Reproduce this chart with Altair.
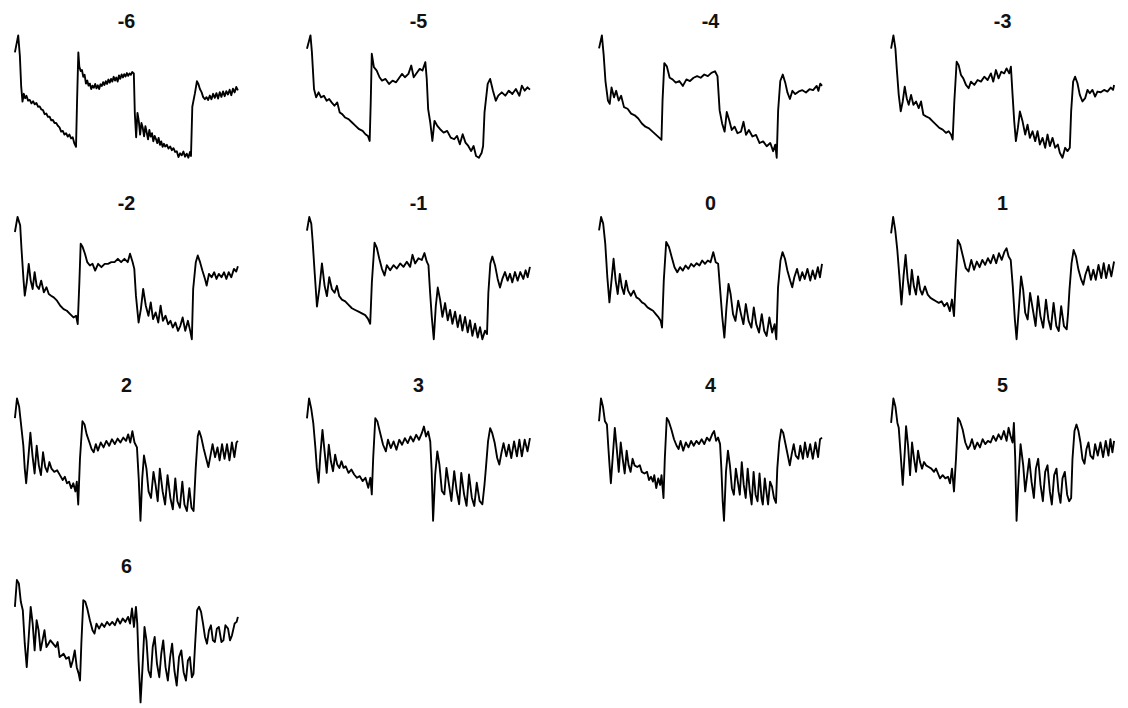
import altair as alt
import pandas as pd

# Panel labels (facet order)
panels = ["-6", "-5", "-4", "-3", "-2", "-1", "0", "1", "2", "3", "4", "5", "6"]

# Waveform readings per panel: time (t) and signal (s, read downward: larger = lower)
t_m6 = [45,55,60,64,68,72,76,80,85,90,95,100,105,110,115,120,125,130,135,140,145,150,155,160,165,170,175,180,185,190,195,200,205,210,215,220,225,230,233,237,240,244,248,252,256,260,264,268,272,276,280,284,288,292,296,300,304,308,312,316,320,324,328,332,336,340,344,348,352,356,360,364,368,372,376,380,384,388,392,396,400,405,408,412,416,420,424,428,432,436,440,444,448,452,456,460,464,468,472,476,480,484,488,492,496,500,505,510,515,520,525,530,535,540,545,550,555,560,565,570,575,578,582,590,596,600,605,610,615,620,625,630,635,640,645,650,655,660,665,670,675,680,685,690,695,700,705,710,715,720]
s_m6 = [150,100,160,250,295,272,285,278,292,290,300,294,303,299,310,309,318,320,332,330,340,339,350,349,358,358,366,371,383,381,392,388,398,392,403,400,418,428,300,150,192,205,202,222,216,242,233,248,242,258,248,254,243,256,247,258,244,249,238,246,235,243,230,239,228,236,222,233,224,236,218,228,215,224,214,221,211,219,212,216,208,212,330,400,328,352,392,358,372,397,367,386,406,378,398,388,412,396,405,417,402,422,412,428,419,427,422,433,427,438,432,443,441,458,447,453,442,457,448,460,443,455,310,270,235,242,258,267,282,288,282,290,277,288,272,284,270,286,267,281,265,279,264,274,260,276,257,268,252,262]

t_m5 = [52,62,66,72,78,85,92,100,108,115,122,130,138,145,152,160,170,180,190,200,210,218,225,230,233,236,242,250,258,265,275,285,295,305,315,322,330,340,348,355,365,372,380,388,392,396,402,408,414,422,430,440,450,460,470,478,486,494,502,510,518,525,532,540,548,552,556,565,572,580,588,595,605,615,625,635,645,655,662,670,678,685]
s_m5 = [140,100,150,260,285,270,285,280,295,290,300,310,300,330,335,345,350,360,370,380,385,395,400,415,300,155,195,205,225,235,230,245,235,240,225,215,225,215,190,225,210,200,205,180,230,320,360,415,355,370,380,390,385,405,410,400,425,395,420,430,445,430,460,465,450,430,330,245,230,265,295,280,270,280,265,275,260,280,250,265,255,262]

t_m4 = [880,888,893,898,905,910,915,922,928,935,942,950,960,970,980,990,1000,1010,1020,1030,1040,1050,1055,1058,1063,1070,1078,1086,1095,1105,1115,1125,1135,1145,1155,1165,1175,1185,1195,1205,1212,1218,1225,1232,1238,1245,1252,1260,1268,1278,1285,1292,1300,1310,1320,1330,1340,1350,1360,1368,1374,1378,1382,1388,1395,1402,1408,1415,1422,1430,1440,1450,1460,1470,1480,1490,1495,1500,1505]
s_m4 = [140,100,160,240,300,310,260,290,270,300,285,320,325,340,345,355,370,380,385,395,405,415,420,300,185,195,230,235,245,240,255,235,240,230,225,230,220,225,215,210,225,330,370,395,335,360,390,380,400,395,365,405,390,410,405,430,425,440,430,455,435,475,330,240,220,245,275,295,270,280,272,268,275,265,268,255,270,248,255]

t_m3 = [55,62,68,72,78,84,90,96,102,108,115,122,130,138,145,152,160,170,180,190,200,210,220,228,235,240,245,252,258,265,272,280,288,295,305,315,325,335,345,355,362,370,378,386,395,402,410,415,420,425,430,436,442,450,458,465,472,480,488,495,502,510,518,525,532,540,548,556,562,570,578,585,592,596,602,608,615,622,630,638,645,652,660,668,675,685,695,705,715,722,725]
s_m3 = [140,100,140,200,280,330,300,255,290,310,280,310,300,320,300,340,345,350,360,370,380,385,395,390,400,415,300,180,190,220,230,250,260,240,250,235,240,225,235,215,240,205,230,210,215,200,215,195,280,360,420,380,330,360,400,370,410,390,420,390,430,410,440,400,435,410,440,430,455,470,440,450,440,330,240,225,245,280,300,290,265,275,265,285,270,272,265,270,258,265,250]

t_m2 = [42,50,58,62,68,72,78,84,90,96,102,108,115,122,130,138,145,152,160,170,180,190,200,210,220,228,233,238,242,248,255,262,270,278,286,295,305,315,325,335,345,355,365,375,385,392,400,405,410,418,425,432,440,448,455,462,470,478,485,492,500,508,515,522,530,538,545,552,560,568,575,580,584,592,598,605,612,620,625,632,640,648,655,662,670,678,685,692,700,708,715,720]
s_m2 = [150,105,130,200,290,340,300,245,295,320,270,310,320,295,330,315,335,340,345,355,370,380,385,395,405,400,425,300,185,195,215,240,250,245,265,245,255,245,245,240,240,230,240,230,240,215,240,260,340,420,380,320,370,400,360,410,390,420,370,415,400,425,415,435,420,445,430,405,445,415,445,470,320,240,220,240,265,290,310,275,285,270,290,275,285,270,290,270,285,260,268,252]

t_m1 = [55,62,68,72,78,85,92,100,108,115,122,130,138,145,152,160,170,180,190,200,210,220,230,238,245,250,258,265,272,280,288,295,305,315,325,335,345,355,365,372,380,390,400,408,415,420,425,430,436,442,448,455,462,470,478,485,492,500,508,515,522,530,538,545,552,560,568,575,582,590,596,600,606,612,620,628,635,642,650,658,665,672,680,688,696,705,712,718,725]
s_m1 = [150,110,130,180,270,370,320,245,310,340,285,320,330,310,340,350,355,365,375,380,385,390,395,405,420,300,185,200,230,260,280,250,265,250,260,245,255,240,255,220,245,230,235,215,240,250,330,400,465,370,315,350,400,360,410,380,420,385,430,395,440,400,445,410,455,420,460,430,465,440,450,330,245,225,250,290,315,290,270,295,275,300,270,295,270,290,265,285,255]

t_0 = [68,74,80,86,92,98,104,110,116,122,128,134,140,146,152,160,168,176,184,192,200,208,216,224,232,240,246,250,255,262,270,278,286,294,302,310,318,326,334,342,350,358,366,374,382,390,398,405,412,418,424,430,436,442,448,455,462,470,478,485,492,500,508,515,522,530,538,545,552,560,568,575,580,585,592,598,605,612,620,626,632,640,648,655,662,670,678,685,692,700,706,712]
s_0 = [150,110,130,190,290,365,300,235,300,340,280,320,340,300,330,345,330,350,355,365,370,380,385,390,400,410,420,440,300,185,200,230,260,275,260,270,255,265,250,258,248,255,240,250,240,245,215,245,250,330,410,470,380,310,340,400,420,360,400,430,370,420,440,380,430,455,400,450,465,410,455,430,475,320,240,215,235,270,300,320,290,265,300,275,295,265,300,270,295,260,290,250]

t_1 = [910,916,922,928,934,940,946,952,958,964,970,976,982,988,994,1000,1008,1016,1024,1032,1040,1048,1056,1064,1072,1080,1086,1092,1097,1103,1110,1118,1126,1134,1142,1150,1158,1166,1174,1182,1190,1198,1206,1214,1222,1230,1238,1244,1250,1256,1262,1268,1273,1280,1286,1292,1298,1305,1312,1320,1328,1335,1342,1350,1358,1365,1372,1380,1388,1395,1402,1410,1418,1422,1426,1432,1438,1445,1452,1460,1466,1472,1480,1488,1495,1502,1510,1518,1525,1532,1540,1547,1555]
s_1 = [160,110,150,210,290,375,290,225,300,345,270,320,345,290,330,345,320,345,355,360,365,370,365,380,370,395,360,410,300,180,195,230,265,275,240,270,245,262,240,255,235,250,225,250,220,240,215,205,230,240,320,420,480,380,290,330,400,420,340,390,440,350,410,445,360,420,450,370,440,455,380,440,450,400,330,250,210,230,270,300,315,285,260,300,270,300,255,295,250,295,255,290,245]

t_2 = [38,44,50,56,62,66,70,76,82,88,94,100,106,112,118,124,130,136,142,150,158,166,174,180,186,192,198,204,210,214,218,223,230,236,242,250,256,262,268,274,282,290,298,306,314,322,330,338,346,354,360,366,372,378,385,390,395,400,405,412,418,425,432,438,444,450,458,465,472,480,487,494,500,507,514,520,527,534,540,546,552,558,562,568,575,582,588,594,600,607,614,620,627,634,641,648,655,662,668,672]
s_2 = [175,115,140,200,260,330,375,300,220,290,345,260,320,350,280,325,340,310,330,340,335,350,365,355,375,370,390,375,400,370,440,300,185,195,225,250,270,280,255,275,250,265,245,260,240,255,238,250,235,245,225,250,215,250,265,360,490,360,290,330,400,420,340,380,430,330,400,440,350,420,455,360,430,450,370,440,460,390,450,460,330,230,215,235,270,300,325,290,255,295,265,305,255,300,255,305,250,295,250,245]

t_3 = [862,868,874,880,886,890,895,900,906,912,918,924,930,936,942,948,954,960,966,972,980,988,996,1004,1012,1020,1028,1036,1042,1046,1050,1056,1062,1070,1078,1086,1092,1100,1108,1116,1124,1132,1140,1148,1156,1164,1172,1180,1188,1194,1200,1206,1212,1216,1220,1226,1232,1238,1245,1252,1258,1265,1272,1280,1287,1294,1300,1308,1315,1322,1330,1337,1344,1352,1360,1366,1370,1376,1382,1388,1395,1402,1408,1414,1420,1428,1435,1442,1450,1458,1465,1472,1480,1488,1495]
s_3 = [180,120,150,195,270,330,375,290,215,280,345,260,310,340,290,320,330,310,330,325,345,335,350,360,355,370,360,390,360,410,300,180,190,225,260,280,245,270,250,275,245,260,240,255,235,250,230,245,225,205,235,220,250,340,490,350,280,320,400,410,330,380,430,340,400,440,345,410,445,350,420,445,375,430,440,380,330,250,210,225,255,300,320,285,255,295,260,300,250,295,245,295,245,280,240]

t_4 = [70,76,82,88,94,98,102,106,112,118,124,130,136,142,148,154,160,166,172,178,186,194,200,208,216,222,228,234,238,244,250,256,260,266,270,276,282,290,298,306,312,318,326,334,342,350,358,366,374,382,390,398,406,414,420,426,432,438,442,446,450,456,462,468,474,480,486,492,498,504,510,516,522,528,534,540,546,552,558,564,568,574,580,584,590,596,602,608,612,618,624,630,636,644,650,656,662,668,676,682,690,696,704,712,720,728,736,742,748]
s_4 = [185,115,140,185,195,260,320,375,290,205,270,340,250,300,345,275,320,340,300,320,325,320,340,345,340,365,355,370,350,390,360,380,350,420,300,175,185,210,240,260,270,245,275,250,265,245,260,245,255,240,255,235,245,225,215,245,235,255,330,430,490,340,275,320,390,410,330,370,410,310,380,420,330,395,440,340,410,430,345,420,440,360,410,440,370,385,420,435,330,250,210,220,250,290,320,285,255,290,300,260,300,250,295,255,300,250,295,240,235]

t_5 = [55,62,68,74,78,84,90,96,100,106,112,118,124,130,136,142,148,154,160,168,176,184,190,196,202,210,218,226,232,238,244,250,256,262,270,278,286,292,298,306,314,322,330,338,346,354,362,370,378,386,394,402,408,414,420,424,428,432,438,444,452,458,464,470,477,484,490,497,504,511,518,525,532,538,545,552,558,564,570,577,584,590,596,600,606,612,618,624,630,636,642,648,654,662,668,676,684,692,700,708,714,720,725]
s_5 = [190,115,140,190,205,290,380,280,200,260,350,250,300,340,275,310,330,310,320,325,330,340,330,345,360,350,360,355,375,330,400,300,175,185,210,250,270,260,240,270,250,265,240,255,245,250,230,245,225,240,215,245,205,230,250,190,300,490,360,255,320,400,350,300,370,420,330,300,380,430,340,320,400,440,350,330,400,435,360,340,410,430,420,300,215,195,215,250,300,315,270,250,290,300,255,290,250,295,245,290,240,280,245]

t_6 = [42,48,54,60,66,72,78,84,90,96,102,108,114,120,126,132,138,144,150,158,166,172,178,184,190,198,206,212,218,224,230,236,240,244,250,256,262,270,278,284,290,298,306,314,322,330,338,346,354,362,370,378,386,392,398,404,410,414,418,424,430,436,442,448,455,461,467,474,481,487,493,500,507,514,520,527,534,541,548,555,562,568,574,580,585,590,596,602,608,614,620,626,632,638,644,650,656,662,670,676,682,690,696,702,710,716,720]
s_6 = [190,110,120,175,200,300,370,280,190,240,320,230,260,320,290,260,310,300,290,300,310,295,340,335,330,345,340,370,350,320,370,390,410,300,170,175,195,230,260,270,240,255,240,250,235,245,235,245,225,240,225,235,220,240,195,250,190,240,350,475,370,250,290,380,400,310,280,360,400,330,290,370,410,340,300,380,425,340,320,385,410,350,340,400,390,300,200,190,205,240,280,300,260,245,290,295,255,250,295,290,245,255,290,275,240,235,220]

series = {
    "-6": (t_m6, s_m6), "-5": (t_m5, s_m5), "-4": (t_m4, s_m4), "-3": (t_m3, s_m3),
    "-2": (t_m2, s_m2), "-1": (t_m1, s_m1), "0": (t_0, s_0), "1": (t_1, s_1),
    "2": (t_2, s_2), "3": (t_3, s_3), "4": (t_4, s_4), "5": (t_5, s_5), "6": (t_6, s_6),
}

rows = []
for p in panels:
    ts, ss = series[p]
    for i, (t, s) in enumerate(zip(ts, ss)):
        rows.append({"panel": p, "i": i, "t": t, "s": s})
df = pd.DataFrame(rows)

base = alt.Chart(df).mark_line(color="black", strokeWidth=1.9, strokeJoin="round").encode(
    x=alt.X("t:Q", axis=None, scale=alt.Scale(zero=False, nice=False)),
    y=alt.Y("s:Q", axis=None, scale=alt.Scale(zero=False, nice=False, reverse=True)),
    order="i:Q",
).properties(width=226, height=124)

hdr = dict(labelFontSize=20, labelFontWeight="bold", labelFont="Liberation Sans",
           labelColor="#111", labelPadding=2)

chart = base.facet(
    facet=alt.Facet("panel:N", sort=panels, header=alt.Header(title=None, **hdr)),
    columns=4,
    spacing={"row": 36, "column": 68},
).resolve_scale(x="independent", y="independent").configure_view(
    stroke=None
).configure_headerFacet(**hdr).properties(
    padding={"left": 6, "top": 0, "right": 5, "bottom": 0}
)

chart.save("out.html", embed_options={"renderer": "svg", "actions": False})
